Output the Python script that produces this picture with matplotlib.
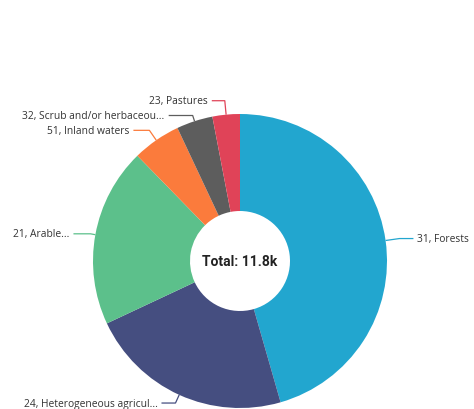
import numpy as np
import matplotlib
matplotlib.use("Agg")
import matplotlib.pyplot as plt

# Land cover classes (code, name) and their areas
codes = ["31", "24", "21", "51", "32", "23"]
names = ["Forests", "Heterogeneous agricultural areas", "Arable land",
         "Inland waters", "Scrub and/or herbaceous vegetation", "Pastures"]
values = [5370, 2650, 2320, 625, 470, 355]

colors = ["#22a6cf", "#454e80", "#5cc08b", "#fb7b3c", "#5d5d5d", "#e04358"]

# label styling: max characters shown, radial leader length, horizontal leader length
max_chars = [40, 21, 6, 40, 22, 40]
leader_radial = [14, 9, 5, 12, 6, 14]
leader_horiz = [14, 14, 17, 16, 24, 13]

W, H = 474, 410
fig = plt.figure(figsize=(W / 100, H / 100), dpi=100)
ax = fig.add_axes([0, 0, 1, 1])
ax.set_xlim(0, W)
ax.set_ylim(0, H)
ax.set_aspect("equal")
ax.axis("off")

cx, cy, r_out, r_in = 240, 410 - 262, 147, 50

wedges, _ = ax.pie(values, colors=colors, startangle=90, counterclock=False,
                   center=(cx, cy), radius=r_out,
                   wedgeprops=dict(width=r_out - r_in, edgecolor="none"))
ax.set_xlim(0, W)
ax.set_ylim(0, H)

font = "Open Sans"
for w, code, name, col, mc, l1, l2 in zip(wedges, codes, names, colors,
                                          max_chars, leader_radial, leader_horiz):
    mid = np.deg2rad((w.theta1 + w.theta2) / 2)
    ex, ey = cx + r_out * np.cos(mid), cy + r_out * np.sin(mid)
    bx, by = cx + (r_out + l1) * np.cos(mid), cy + (r_out + l1) * np.sin(mid)
    side = 1 if np.cos(mid) >= 0 else -1
    tx = bx + side * l2
    ax.plot([ex, bx, tx], [ey, by, by], color=col, lw=0.9, solid_capstyle="butt")
    label = name if len(name) <= mc else name[:mc].rstrip() + "..."
    ax.text(tx + side * 4, by, f"{code}, {label}", ha="left" if side > 0 else "right",
            va="center", fontsize=7.4, family=font, color="#333333")

total = sum(values)
ax.text(cx, cy, f"Total: {total / 1000:.1f}k", ha="center", va="center",
        fontsize=10, fontweight="bold", family="Roboto", color="#222222")

fig.savefig("out.png", dpi=100)
